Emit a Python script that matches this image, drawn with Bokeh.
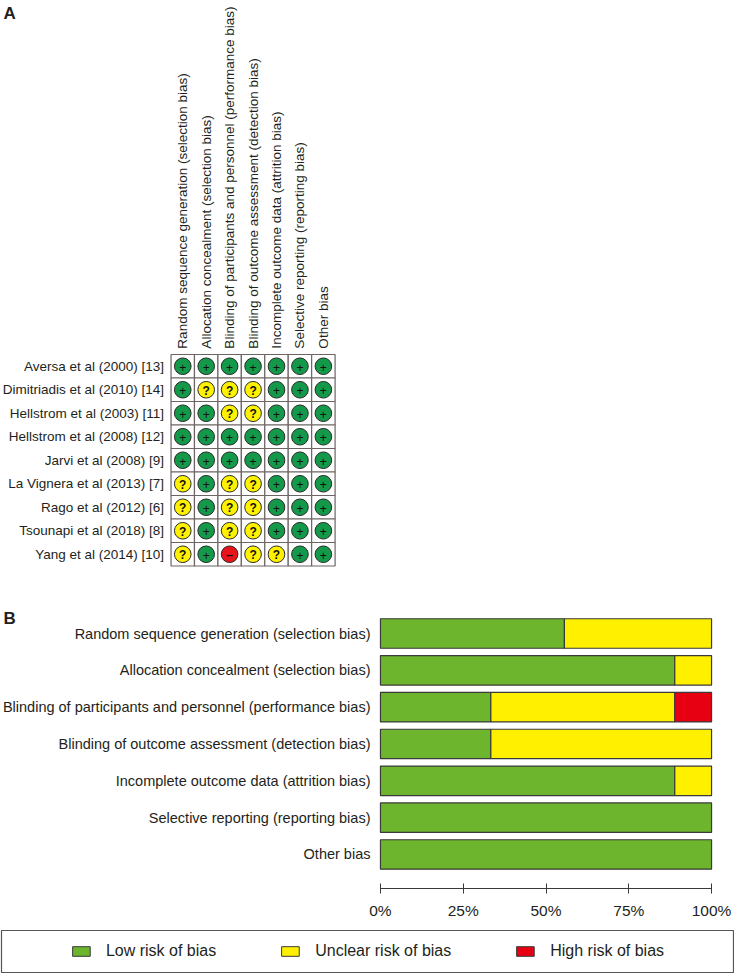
import math
from bokeh.plotting import figure
from bokeh.layouts import column
from bokeh.models import (Range1d, ColumnDataSource, FixedTicker,
                          CustomJSTickFormatter, Legend, LegendItem)
from bokeh.core.properties import value
from bokeh.embed import file_html
from bokeh.resources import INLINE

# ---------------- data ----------------
studies = ["Aversa et al (2000) [13]", "Dimitriadis et al (2010) [14]",
           "Hellstrom et al (2003) [11]", "Hellstrom et al (2008) [12]",
           "Jarvi et al (2008) [9]", "La Vignera et al (2013) [7]",
           "Rago et al (2012) [6]", "Tsounapi et al (2018) [8]",
           "Yang et al (2014) [10]"]
domains = ["Random sequence generation (selection bias)",
           "Allocation concealment (selection bias)",
           "Blinding of participants and personnel (performance bias)",
           "Blinding of outcome assessment (detection bias)",
           "Incomplete outcome data (attrition bias)",
           "Selective reporting (reporting bias)",
           "Other bias"]
# judgements per domain, one entry per study ("+" low, "?" unclear, "-" high)
random_sequence = ["+", "+", "+", "+", "+", "?", "?", "?", "?"]
allocation_concealment = ["+", "?", "+", "+", "+", "+", "+", "+", "+"]
blinding_participants = ["+", "?", "?", "+", "+", "?", "?", "?", "-"]
blinding_outcome = ["+", "?", "?", "+", "+", "?", "?", "?", "?"]
incomplete_outcome = ["+", "+", "+", "+", "+", "+", "+", "+", "?"]
selective_reporting = ["+", "+", "+", "+", "+", "+", "+", "+", "+"]
other_bias = ["+", "+", "+", "+", "+", "+", "+", "+", "+"]
judgements = [random_sequence, allocation_concealment, blinding_participants,
              blinding_outcome, incomplete_outcome, selective_reporting, other_bias]
legend_labels = ["Low risk of bias", "Unclear risk of bias", "High risk of bias"]
levels = ["+", "?", "-"]

# ---------------- styles ----------------
FONT = value("Liberation Sans")
TXT = "#231f20"
circle_colors = {"+": "#14994a", "?": "#fff200", "-": "#e8141c"}
symbol_text = {"+": "+", "?": "?", "-": "\u2013"}
symbol_style = {"+": "normal", "?": "bold", "-": "bold"}
bar_colors = ["#6cb52d", "#fff000", "#e60012"]

W = 735

# ---------------- panel A ----------------
A_H = 575
cell = 23.5
gx0, gy0 = 170, 354                     # grid top-left in figure pixels
ax_s = -gx0 / cell
ay_t = -gy0 / cell
pA = figure(width=W, height=A_H, x_range=Range1d(ax_s, ax_s + W / cell),
            y_range=Range1d(ay_t + A_H / cell, ay_t),
            x_axis_location=None, y_axis_location=None,
            output_backend="svg", toolbar_location=None, min_border=0)
pA.grid.visible = False
pA.outline_line_color = None

cx, cy, cc, cs, cf = [], [], [], [], []
for i, col in enumerate(judgements):
    for j, jd in enumerate(col):
        cx.append(i + 0.5)
        cy.append(j + 0.5)
        cc.append(circle_colors[jd])
        cs.append(symbol_text[jd])
        cf.append(symbol_style[jd])
src = ColumnDataSource(dict(x=cx, y=cy, c=cc, s=cs, f=cf))
pA.rect("x", "y", width=1, height=1, source=src, fill_color="white",
        line_color="#6e6464", line_width=1.2)
pA.circle("x", "y", radius=0.355, source=src, fill_color="c",
          line_color="#2a2a2a", line_width=1)
pA.text("x", "y", text="s", source=src, text_align="center",
        text_baseline="middle", text_font=FONT, text_font_size="12px",
        text_font_style="f", text_color="#111111", y_offset=1)

pA.text(x=[-0.3] * len(studies), y=[j + 0.5 for j in range(len(studies))],
        text=studies, text_align="right", text_baseline="middle",
        text_font=FONT, text_font_size="13.5px", text_color=TXT)
pA.text(x=[i + 0.5 for i in range(len(domains))], y=[-0.25] * len(domains),
        text=domains, angle=math.pi / 2, text_align="left",
        text_baseline="middle", text_font=FONT, text_font_size="13.5px",
        text_color=TXT)
pA.text(x=[ax_s + 2 / cell], y=[ay_t + 3 / cell], text=["A"],
        text_align="left", text_baseline="top", text_font=FONT,
        text_font_style="bold", text_font_size="17px", text_color=TXT)

# ---------------- panel B ----------------
B_H = 354
B_frame = 313
row = 36.83
ppx = 3.32                               # pixels per percent
bx_s = -380 / ppx
by_t = -58 / row
pB = figure(width=W, height=B_H, x_range=Range1d(bx_s, bx_s + W / ppx),
            y_range=Range1d(by_t + B_frame / row, by_t),
            x_axis_location="below", y_axis_location=None,
            output_backend="svg", toolbar_location=None,
            min_border_left=0, min_border_right=0, min_border_top=0,
            min_border_bottom=B_H - B_frame)
pB.grid.visible = False
pB.outline_line_color = None

n = len(studies)
seg_y, seg_l, seg_r, seg_c = [], [], [], []
for k, col in enumerate(judgements):
    left = 0.0
    for lv, colr in zip(levels, bar_colors):
        pct = 100.0 * col.count(lv) / n
        if pct > 0:
            seg_y.append(k)
            seg_l.append(left)
            seg_r.append(left + pct)
            seg_c.append(colr)
        left += pct
pB.hbar(y=seg_y, left=seg_l, right=seg_r, height=0.8, fill_color=seg_c,
        line_color="#3a3a3a", line_width=1.2)
pB.text(x=[0] * len(domains), y=list(range(len(domains))), text=domains,
        x_offset=-10, text_align="right", text_baseline="middle",
        text_font=FONT, text_font_size="14.5px", text_color=TXT)
pB.text(x=[bx_s + 2 / ppx], y=[by_t + 33 / row], text=["B"],
        text_align="left", text_baseline="top", text_font=FONT,
        text_font_style="bold", text_font_size="17px", text_color=TXT)

xa = pB.xaxis[0]
xa.bounds = (0, 100)
xa.ticker = FixedTicker(ticks=[0, 25, 50, 75, 100])
xa.minor_tick_line_color = None
xa.formatter = CustomJSTickFormatter(code="return tick.toFixed(0) + '%';")
xa.axis_line_color = "#3a3a3a"
xa.major_tick_line_color = "#3a3a3a"
xa.major_tick_in = 5
xa.major_tick_out = 5
xa.major_label_standoff = 8
xa.major_label_text_font = "Liberation Sans"
xa.major_label_text_font_size = "15.5px"
xa.major_label_text_color = TXT

# ---------------- legend ----------------
L_H = 44
pL = figure(width=W - 1, height=L_H, x_range=Range1d(0, 1), y_range=Range1d(0, 1),
            x_axis_location=None, y_axis_location=None,
            output_backend="svg", toolbar_location=None, min_border=1)
pL.grid.visible = False
pL.outline_line_color = "#555555"
pL.outline_line_width = 1.2
items = []
for lbl, colr in zip(legend_labels, bar_colors):
    r = pL.rect(x=[-5], y=[-5], width=0.1, height=0.1, fill_color=colr,
                line_color="#3a3a3a", line_width=1)
    items.append(LegendItem(label=lbl, renderers=[r]))
leg = Legend(items=items, orientation="horizontal", location="center",
             spacing=63, glyph_width=22, glyph_height=12, label_standoff=14,
             label_text_font="Liberation Sans", label_text_font_size="16px",
             label_text_color=TXT, border_line_color=None,
             background_fill_alpha=0, padding=0, margin=0)
pL.add_layout(leg, "center")

layout = column(pA, pB, pL, spacing=0)
open("out.html", "w").write(file_html(layout, INLINE))
